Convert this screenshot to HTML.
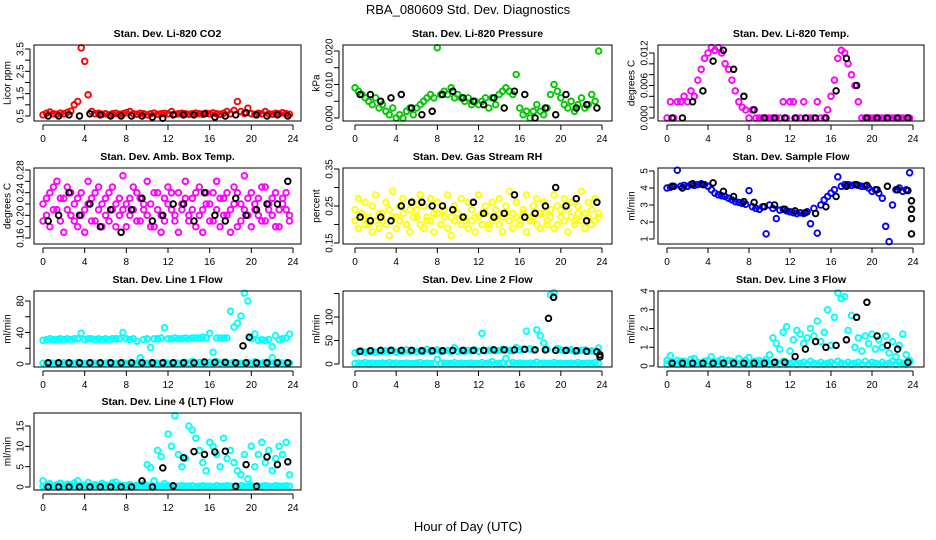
<!DOCTYPE html>
<html><head><meta charset="utf-8"><style>
body{margin:0;background:#fff;}
svg{display:block;font-family:"Liberation Sans",sans-serif;}
</style></head><body>
<svg id="c" width="936" height="540" viewBox="0 0 936 540">
<rect width="936" height="540" fill="#fff"/>
<text x="468" y="14" text-anchor="middle" font-size="13">RBA_080609  Std. Dev. Diagnostics</text>
<text x="468" y="531" text-anchor="middle" font-size="13">Hour of Day (UTC)</text>
</svg>
<script>
const hours72 = Array.from({length:72},(_,i)=>i/3);
const hours24 = Array.from({length:24},(_,i)=>i+0.5);
const xTicks = [0,4,8,12,16,20,24];

const co2Red = [0.55,0.62,0.68,0.6,0.58,0.63,0.6,0.66,0.72,1.0,1.15,3.55,2.95,1.45,0.7,0.6,0.62,0.58,0.6,0.55,0.6,0.62,0.58,0.6,0.65,0.7,0.6,0.58,0.62,0.6,0.55,0.6,0.63,0.58,0.6,0.62,0.6,0.7,0.58,0.6,0.62,0.6,0.58,0.6,0.63,0.6,0.58,0.62,0.6,0.64,0.6,0.58,0.62,0.7,0.6,0.75,1.15,0.7,0.62,0.85,0.6,0.58,0.62,0.6,0.7,0.6,0.58,0.62,0.6,0.65,0.6,0.58];
const co2Black = [0.5,0.5,0.55,0.5,0.6,0.55,0.5,0.5,0.5,0.5,0.45,0.4,0.55,0.55,0.55,0.6,0.45,0.5,0.55,0.65,0.55,0.5,0.55,0.5];

const presGreen = [.009,.008,.007,.006,.005,.004,.006,.003,.004,.002,.001,.003,0,.001,0,.002,.003,.001,.003,.004,.005,.006,.007,.006,.021,.007,.008,.007,.009,.006,.007,.006,.005,.006,.004,.005,.004,.005,.006,.003,.006,.004,.007,.008,.009,.008,.007,.013,.003,.001,.002,0,.002,.004,.002,.001,.003,.007,.010,.008,.006,.004,.003,.005,.002,.004,.006,.003,.004,.007,.005,.020];
const presBlack = [.007,.007,.005,.006,.007,.003,.001,.002,.007,.008,.006,.005,.004,.006,.003,.008,.007,0,.003,.001,.007,.003,.004,.003];

const tempMag = [0,.003,0,.003,.003,.004,.003,.005,.004,.007,.009,.011,.012,.013,.0125,.013,.012,.010,.009,.007,.005,.003,.002,.0015,0,.0015,0,0,0,0,0,0,0,0,.003,0,.003,.003,0,0,.003,0,0,0,.003,0,0,.0015,.004,.007,.011,.0125,.012,.010,.008,.006,.003,0,0,0,0,0,0,0,0,0,0,0,0,0,0,0];
const tempBlack = [0,0,.003,.005,.0105,.0125,.009,.004,.0015,0,0,0,0,0,0,0,.005,.011,.006,0,0,0,0,0];

const boxA = [.22,.20,.24,.21,.26,.19,.23,.25,.20,.22,.18,.24,.21,.26,.23,.19,.25,.22,.20,.24,.21,.18,.23,.27,.22,.20,.25,.19,.23,.21,.26,.22,.18,.24,.20,.23,.25,.21,.19,.24,.22,.26,.20,.23,.18,.25,.21,.24,.22,.19,.26,.23,.20,.24,.21,.25,.18,.22,.27,.20,.24,.21,.23,.19,.25,.22,.20,.24,.18,.23,.21,.20];
const boxB = [.19,.23,.18,.25,.21,.23,.17,.21,.24,.19,.23,.20,.17,.22,.19,.24,.21,.18,.23,.19,.25,.22,.20,.21,.18,.23,.21,.24,.19,.22,.20,.18,.24,.21,.17,.19,.22,.24,.20,.17,.21,.23,.19,.21,.24,.20,.17,.22,.19,.24,.21,.18,.23,.20,.17,.22,.24,.19,.21,.23,.18,.22,.20,.25,.19,.21,.23,.18,.21,.22,.24,.19];
const boxBlack = [.19,.20,.24,.20,.22,.18,.21,.17,.21,.23,.19,.20,.22,.22,.19,.24,.20,.19,.23,.20,.21,.22,.22,.26];

const rhA = [.24,.27,.22,.26,.20,.25,.28,.23,.21,.26,.24,.29,.22,.25,.27,.20,.24,.26,.22,.28,.25,.21,.27,.23,.26,.20,.24,.28,.22,.25,.23,.27,.21,.26,.24,.22,.28,.23,.25,.20,.26,.24,.27,.22,.25,.29,.23,.26,.21,.24,.28,.22,.25,.27,.23,.26,.20,.24,.28,.25,.22,.27,.24,.26,.21,.25,.29,.23,.26,.24,.27,.22];
const rhB = [.21,.19,.23,.20,.22,.18,.21,.19,.23,.20,.17,.22,.19,.21,.23,.20,.18,.22,.24,.20,.19,.22,.21,.18,.23,.20,.22,.19,.17,.21,.23,.20,.22,.19,.21,.18,.22,.20,.23,.19,.21,.22,.20,.18,.23,.21,.19,.22,.20,.23,.18,.21,.22,.20,.19,.23,.21,.22,.19,.20,.24,.21,.18,.22,.20,.23,.21,.19,.22,.20,.21,.23];
const rhBlack = [.22,.21,.22,.21,.25,.26,.26,.25,.25,.24,.22,.26,.23,.22,.23,.28,.22,.23,.25,.30,.25,.27,.21,.26];

const flowBlue = [4.0,4.05,4.1,5.05,4.1,4.15,4.1,4.2,4.15,4.2,4.25,4.2,4.1,3.9,3.7,3.6,3.55,3.5,3.4,3.3,3.2,3.15,3.1,3.05,3.85,2.9,2.8,2.75,2.9,1.3,3.0,2.8,2.2,2.7,2.75,2.65,2.6,2.55,2.5,2.55,2.5,2.6,1.9,2.8,1.35,3.0,3.3,3.5,3.7,3.9,4.65,4.1,4.2,4.2,4.15,4.2,4.15,4.1,4.1,4.0,3.8,3.9,3.7,3.4,1.75,0.85,3.0,3.9,4.0,3.8,3.9,4.9];
const flowBlack = [4.1,4.0,4.25,4.2,4.3,3.8,3.5,3.2,3.15,2.9,3.0,2.75,2.65,2.55,2.5,2.9,3.5,4.1,4.2,4.15,3.9,4.1,3.9,3.85];
const flowBlackExtraHours = [23.85,23.85,23.85,23.85];
const flowBlackExtra = [3.25,2.75,2.2,1.3];

const line1Upper = [30,31,32,31,31,32,31,32,31,32,32,39,31,32,32,31,32,31,32,31,32,32,32,40,32,31,32,29,8,31,32,21,32,32,33,46,32,32,33,32,32,33,32,33,33,33,34,33,39,15,33,33,33,33,67,47,52,61,90,80,32,38,30,31,30,31,22,36,31,32,33,38];
const line1Lower = [1,1,1.5,1,1,1,1.5,1,1,1,2,1,1,1,1.5,1,1,1,1,2,1,1,1,1.5,1,1,1,1,2,1,1,1.5,1,1,1,2,1,1,1.5,1,1,2,1,3,1,2,1,1,2,1,3,1,2,1,1,2,1,1,1,2,1,3,1,1,2,1,8,1,2,1,1,1];
const line1Black = [1.5,1.5,1.5,1.5,1.5,1.5,1.5,1.5,1.5,1.5,1.5,1.5,1.5,1.5,1.5,2.5,2,2,1.5,1.5,1.5,1.5,1.5,1.5];
const line1BlackExtraHours = [19.2,19.8];
const line1BlackExtra = [23,34];

const line2Upper = [24,26,27,25,26,28,25,27,26,28,27,29,25,27,26,30,27,28,26,28,27,31,27,28,30,27,28,29,26,35,27,28,27,29,28,30,27,65,28,29,30,28,29,31,30,29,28,35,30,31,70,32,30,73,60,45,31,147,152,33,30,28,29,30,27,28,29,30,27,28,27,34];
const line2Lower = [1,2,1,3,1,2,1,1,2,1,3,1,2,1,1,2,1,1,2,3,1,2,1,1,10,1,2,1,1,3,1,2,1,1,2,1,1,3,1,2,5,1,1,2,12,1,3,1,2,1,1,2,1,4,1,2,1,1,3,1,2,1,1,2,1,3,1,1,2,1,3,1];
const line2Black = [27,28,29,29,29,29,28,28,28,29,29,29,29,30,30,30,31,30,30,29,29,28,27,26];
const line2BlackExtraHours = [18.8,19.3,23.8,23.8];
const line2BlackExtra = [97,142,20,15];

const line3A = [.1,.2,.15,.1,.25,.1,.2,.15,.1,.2,.1,.15,.25,.1,.2,.1,.15,.2,.1,.25,.15,.1,.2,.1,.15,.2,.1,.15,.1,.2,.1,.15,.2,.1,.25,.1,.15,.2,.1,.15,.2,.1,.25,.15,.1,.2,.1,.15,.2,.1,.25,.15,.1,.2,.1,.15,.2,.1,.25,.1,.2,.15,.1,.2,.1,.15,.25,.1,.2,.15,.1,.2];
const line3B = [.3,.55,.2,.3,.15,.25,.2,.35,.4,.2,.15,.25,.3,.5,.2,.25,.35,.2,.3,.25,.2,.4,.15,.3,.45,.2,.25,.3,.2,.35,.6,1.5,1.2,.9,1.8,2.1,.8,1.4,1.9,1.7,1.2,1.5,2.0,1.6,2.4,1.3,1.8,3.0,1.1,2.6,3.9,3.6,3.7,1.9,2.7,1.0,1.5,.8,1.6,1.2,1.7,.9,1.4,1.0,1.6,.7,1.3,.5,1.1,1.7,.6,.3];
const line3Black = [.15,.15,.15,.15,.15,.15,.15,.15,.15,.15,.2,.2,.5,.9,1.3,1.0,1.1,1.4,2.6,3.4,1.6,1.1,.9,.2];

const line4A = [.2,.3,.2,.1,.3,.2,.2,.3,.1,.2,.3,.2,.2,.1,.3,.2,.2,.3,.2,.1,.2,.3,.2,.2,.3,.1,.2,.2,.3,.2,.3,.2,.1,.3,.2,.2,.3,.2,.1,.2,.3,.2,.2,.3,.1,.2,.3,.2,.2,.1,.3,.2,.2,.3,.2,.1,.2,.3,.2,.2,.3,.1,.2,.2,.3,.2,.1,.3,.2,.2,.3,.2];
const line4B = [1.5,.5,.8,.3,.6,.9,.4,.7,.5,1.0,1.5,.3,.5,1.1,.4,.6,.3,.9,.5,.4,1.0,1.2,.5,.4,.3,.6,.2,.4,.5,.8,5.5,4.8,1.5,9,7.5,.8,13,10,17.5,8,5,7,15,14,12,9,6,4,11,10,8,5,12,7,9,6,4,3,8,2,10,5,8,11,6,9,4,7,10,8,11,3];
const line4Black = [0,0,0,0,0,0,0,0,0,1.5,0,4.7,0.3,7.2,8.7,8,8.6,8.8,0.2,5.5,0.2,7.4,5.5,6.2];

const NS='http://www.w3.org/2000/svg';
const svg=document.getElementById('c');
function mk(tag,attrs,parent){const e=document.createElementNS(NS,tag);for(const k in attrs)e.setAttribute(k,attrs[k]);(parent||svg).appendChild(e);return e;}

const cols=[{l:34,r:301,x0:43,x24:293},{l:343,r:612,x0:355,x24:602},{l:658,r:924,x0:667,x24:913}];
const rows=[{t:45,b:121},{t:168,b:244},{t:291,b:367},{t:413,b:490}];

const panels=[
 {name:'co2',title:'Stan. Dev. Li-820 CO2',yl:'Licor ppm',c:0,r:0,v0:0.5,p0:116,v1:3.5,p1:49,ticks:[0.5,1,1.5,2,2.5,3,3.5],labs:['0.5','1.5','2.5','3.5'],labv:[0.5,1.5,2.5,3.5],
  series:[[hours72,co2Red,'#ff0000'],[hours24,co2Black,'#000']]},
 {name:'pressure',title:'Stan. Dev. Li-820 Pressure',yl:'kPa',c:1,r:0,v0:0,p0:118,v1:0.02,p1:51,ticks:[0,.005,.01,.015,.02],labs:['0.000','0.010','0.020'],labv:[0,.01,.02],
  series:[[hours72,presGreen,'#00c800'],[hours24,presBlack,'#000']]},
 {name:'li820-temp',title:'Stan. Dev. Li-820 Temp.',yl:'degrees C',c:2,r:0,v0:0,p0:118,v1:0.012,p1:53,ticks:[0,.002,.004,.006,.008,.01,.012],labs:['0.000','0.006','0.012'],labv:[0,.006,.012],
  series:[[hours72,tempMag,'#ff00ff'],[hours24,tempBlack,'#000']]},
 {name:'box-temp',title:'Stan. Dev. Amb. Box Temp.',yl:'degrees C',c:0,r:1,v0:0.16,p0:238,v1:0.28,p1:170,ticks:[.16,.18,.2,.22,.24,.26,.28],labs:['0.16','0.20','0.24','0.28'],labv:[.16,.2,.24,.28],
  series:[[hours72,boxA,'#ff00ff'],[hours72,boxB,'#ff00ff'],[hours24,boxBlack,'#000']]},
 {name:'gas-rh',title:'Stan. Dev. Gas Stream RH',yl:'percent',c:1,r:1,v0:0.15,p0:243,v1:0.35,p1:169,ticks:[.15,.2,.25,.3,.35],labs:['0.15','0.25','0.35'],labv:[.15,.25,.35],
  series:[[hours72,rhA,'#ffff00'],[hours72,rhB,'#ffff00'],[hours24,rhBlack,'#000']]},
 {name:'sample-flow',title:'Stan. Dev. Sample Flow',yl:'ml/min',c:2,r:1,v0:1,p0:239,v1:5,p1:171,ticks:[1,2,3,4,5],labs:['1','2','3','4','5'],labv:[1,2,3,4,5],
  series:[[hours72,flowBlue,'#0000ff'],[hours24,flowBlack,'#000'],[flowBlackExtraHours,flowBlackExtra,'#000']]},
 {name:'line1-flow',title:'Stan. Dev. Line 1 Flow',yl:'ml/min',c:0,r:2,v0:0,p0:364,v1:80,p1:301,ticks:[0,20,40,60,80],labs:['0','40','80'],labv:[0,40,80],
  series:[[hours72,line1Upper,'#00ffff'],[hours72,line1Lower,'#00ffff'],[hours24,line1Black,'#000'],[line1BlackExtraHours,line1BlackExtra,'#000']]},
 {name:'line2-flow',title:'Stan. Dev. Line 2 Flow',yl:'ml/min',c:1,r:2,v0:0,p0:364,v1:100,p1:317,ticks:[0,50,100,150],labs:['0','50','100'],labv:[0,50,100],
  series:[[hours72,line2Upper,'#00ffff'],[hours72,line2Lower,'#00ffff'],[hours24,line2Black,'#000'],[line2BlackExtraHours,line2BlackExtra,'#000']]},
 {name:'line3-flow',title:'Stan. Dev. Line 3 Flow',yl:'ml/min',c:2,r:2,v0:0,p0:366,v1:4,p1:291,ticks:[0,1,2,3,4],labs:['0','1','2','3','4'],labv:[0,1,2,3,4],
  series:[[hours72,line3A,'#00ffff'],[hours72,line3B,'#00ffff'],[hours24,line3Black,'#000']]},
 {name:'line4-flow',title:'Stan. Dev. Line 4 (LT) Flow',yl:'ml/min',c:0,r:3,v0:0,p0:487,v1:15,p1:426,ticks:[0,5,10,15],labs:['0','5','10','15'],labv:[0,5,10,15],
  series:[[hours72,line4A,'#00ffff'],[hours72,line4B,'#00ffff'],[hours24,line4Black,'#000']]}
];

panels.forEach(p=>{
  const C=cols[p.c],R=rows[p.r];
  const g=mk('g',{});
  
  
  const xs=v=>C.x0+(C.x24-C.x0)*v/24;
  const ys=v=>p.p0+(p.p1-p.p0)*(v-p.v0)/(p.v1-p.v0);
  const cx=(C.l+C.r)/2;
  const t=mk('text',{x:cx,y:R.t-8,'text-anchor':'middle','font-size':10.5,'font-weight':'bold'},g);
  t.textContent=p.title;
  
  
  const pg=mk('g',{fill:'none','stroke-width':1.9},g);
  
  
  p.series.forEach(s=>{
    const [hx,vy,col]=s;
    vy.forEach((v,i)=>{
      const y=ys(v);
      if(y<R.t-3||y>R.b+3) return;
      const c=mk('circle',{cx:xs(hx[i]).toFixed(1),cy:y.toFixed(1),r:2.8,stroke:col},pg);
      
      
    });
  });
  const box=mk('rect',{x:C.l,y:R.t,width:C.r-C.l,height:R.b-R.t,fill:'none',stroke:'#000','stroke-width':1},g);
  
  
  const xa=mk('g',{},g);
  
  
  mk('line',{x1:xs(0),x2:xs(24),y1:R.b+4,y2:R.b+4,stroke:'#000'},xa);
  xTicks.forEach(v=>{
    mk('line',{x1:xs(v),x2:xs(v),y1:R.b+4,y2:R.b+9,stroke:'#000'},xa);
    const tl=mk('text',{x:xs(v),y:R.b+21,'text-anchor':'middle','font-size':10},xa);
    tl.textContent=v;
    
    
  });
  const ya=mk('g',{},g);
  
  
  const ax=C.l-4;
  mk('line',{x1:ax,x2:ax,y1:ys(p.ticks[0]),y2:ys(p.ticks[p.ticks.length-1]),stroke:'#000'},ya);
  p.ticks.forEach(v=>mk('line',{x1:ax-5,x2:ax,y1:ys(v),y2:ys(v),stroke:'#000'},ya));
  p.labs.forEach((l,i)=>{
    const y=ys(p.labv[i]);const x=C.l-14;
    const tl=mk('text',{x:x,y:y,'text-anchor':'middle','font-size':10,transform:`rotate(-90 ${x} ${y})`},ya);
    tl.textContent=l;
    tl.setAttribute('dy','0.35em');
    
    
  });
  const yx=C.l-27,yy=(R.t+R.b)/2;
  const yt=mk('text',{x:yx,y:yy,'text-anchor':'middle','font-size':10,dy:'0.35em',transform:`rotate(-90 ${yx} ${yy})`},g);
  yt.textContent=p.yl;
  
  
});
</script>
</body></html>
